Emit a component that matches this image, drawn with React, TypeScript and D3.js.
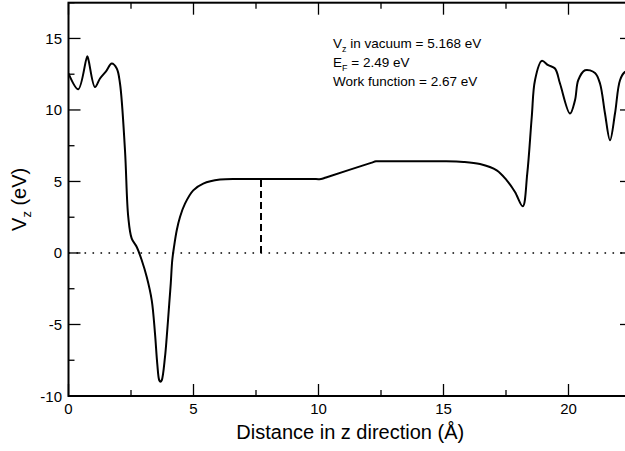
import React from "react";
import * as d3 from "d3";

const xs = [0, 0.39, 0.75, 0.8, 1.06, 1.26, 1.5, 1.73, 1.93, 2.06, 2.26, 2.39, 2.53, 2.73, 2.93, 3.13, 3.33, 3.46, 3.55, 3.63, 3.68, 3.73, 3.86, 3.93, 4.03, 4.09, 4.15, 4.22, 4.33, 4.46, 4.66, 4.99, 5.39, 6.06, 7.0, 9.9, 10.1, 10.3, 12.1, 12.3, 12.5, 14.86, 15.8, 16.46, 17.13, 17.53, 17.86, 18.17, 18.35, 18.53, 18.66, 18.93, 19.19, 19.46, 19.66, 20.06, 20.26, 20.39, 20.66, 21.06, 21.26, 21.46, 21.66, 21.86, 22.06, 22.26, 22.5];
const vz = [12.55, 11.45, 13.75, 13.5, 11.6, 12.2, 12.7, 13.25, 12.9, 11.85, 7.17, 2.52, 1.0, 0.42, -0.51, -1.68, -3.31, -5.64, -7.73, -8.9, -9.0, -8.9, -7.27, -5.87, -3.54, -2.14, -0.51, 0.42, 1.59, 2.52, 3.45, 4.38, 4.85, 5.13, 5.168, 5.168, 5.168, 5.28, 6.3, 6.41, 6.41, 6.41, 6.37, 6.22, 5.78, 5.08, 4.27, 3.27, 5.55, 9.51, 12.08, 13.43, 13.13, 12.9, 11.85, 9.75, 10.68, 12.08, 12.78, 12.59, 11.85, 9.75, 7.88, 9.75, 12.08, 12.66, 12.7];

const xMajor = [0, 5, 10, 15, 20];
const xMinor = [2.5, 7.5, 12.5, 17.5, 22.5];
const yMajor = [-10, -5, 0, 5, 10, 15];
const yMinor = [-7.5, -2.5, 2.5, 7.5, 12.5, 17.5];
const notes = ["in vacuum = 5.168 eV", "= 2.49 eV", "Work function = 2.67 eV"];
const vacuumLevel = 5.168;
const markerX = 7.7;

export default function App() {
  const W = 625, H = 451;
  const left = 68.5, right = 632, top = 2.7, bottom = 396;
  const x = d3.scaleLinear().domain([0, 22.54]).range([left, right]);
  const y = d3.scaleLinear().domain([-10, 17.5]).range([bottom, top]);
  const data = xs.map((v, i) => [v, vz[i]] as [number, number]);
  const line = d3.line<[number, number]>().x(d => x(d[0])).y(d => y(d[1])).curve(d3.curveCatmullRom.alpha(0.5));
  const font = "Liberation Sans, Arial, sans-serif";
  return (
    <svg width={W} height={H} style={{ position: "absolute", left: 0, top: 0, background: "#fff" }} fontFamily={font}>
      <defs>
        <clipPath id="clip"><rect x={left} y={top} width={right - left} height={bottom - top} /></clipPath>
      </defs>
      <line x1={left} x2={right} y1={y(0)} y2={y(0)} stroke="#000" strokeWidth={1.6} strokeDasharray="1.6,6.4" />
      <line x1={x(markerX)} x2={x(markerX)} y1={y(0)} y2={y(vacuumLevel)} stroke="#000" strokeWidth={2} strokeDasharray="7,4" />
      <path d={line(data) || ""} fill="none" stroke="#000" strokeWidth={2} clipPath="url(#clip)" />
      <rect x={left} y={top} width={right - left} height={bottom - top} fill="none" stroke="#000" strokeWidth={2} />
      {xMajor.map(v => (
        <g key={"xM" + v}>
          <line x1={x(v)} x2={x(v)} y1={bottom} y2={bottom - 12} stroke="#000" strokeWidth={1.3} />
          <line x1={x(v)} x2={x(v)} y1={top} y2={top + 12} stroke="#000" strokeWidth={1.3} />
          <text x={x(v)} y={414} fontSize={15} textAnchor="middle">{v}</text>
        </g>
      ))}
      {xMinor.map(v => (
        <g key={"xm" + v}>
          <line x1={x(v)} x2={x(v)} y1={bottom} y2={bottom - 6} stroke="#000" strokeWidth={1.3} />
          <line x1={x(v)} x2={x(v)} y1={top} y2={top + 6} stroke="#000" strokeWidth={1.3} />
        </g>
      ))}
      {yMajor.map(v => (
        <g key={"yM" + v}>
          <line x1={left} x2={left + 12} y1={y(v)} y2={y(v)} stroke="#000" strokeWidth={1.3} />
          <line x1={right} x2={right - 12} y1={y(v)} y2={y(v)} stroke="#000" strokeWidth={1.3} />
          <text x={62} y={y(v) + 5.5} fontSize={15} textAnchor="end">{v}</text>
        </g>
      ))}
      {yMinor.map(v => (
        <g key={"ym" + v}>
          <line x1={left} x2={left + 6} y1={y(v)} y2={y(v)} stroke="#000" strokeWidth={1.3} />
          <line x1={right} x2={right - 6} y1={y(v)} y2={y(v)} stroke="#000" strokeWidth={1.3} />
        </g>
      ))}
      <text x={(left + right) / 2} y={439} fontSize={20} textAnchor="middle">Distance in z direction (Å)</text>
      <text transform={`translate(26,${(top + bottom) / 2}) rotate(-90)`} fontSize={20} textAnchor="middle">
        V<tspan fontSize={13} dy={5}>z</tspan><tspan dy={-5}> (eV)</tspan>
      </text>
      <g fontSize={13.5}>
        <text x={333} y={48}>V<tspan fontSize={9} dy={3.5}>z</tspan><tspan dy={-3.5}> {notes[0]}</tspan></text>
        <text x={333} y={67}>E<tspan fontSize={9} dy={3.5}>F</tspan><tspan dy={-3.5}> {notes[1]}</tspan></text>
        <text x={333} y={85.5}>{notes[2]}</text>
      </g>
    </svg>
  );
}
